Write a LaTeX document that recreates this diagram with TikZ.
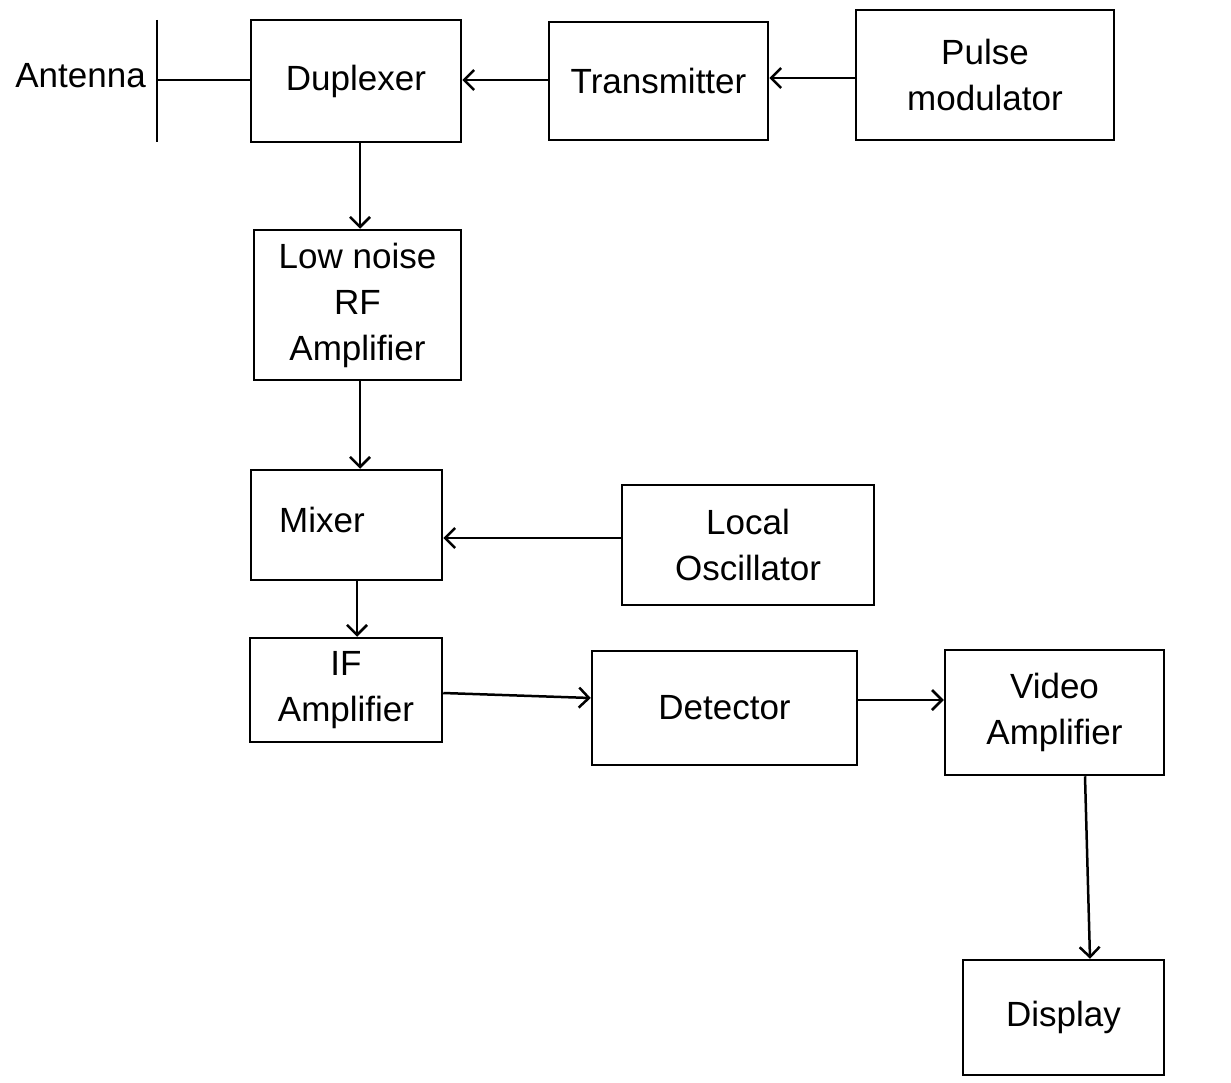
\documentclass[tikz,border=0pt]{standalone}
\usepackage{fontspec}
\setmainfont{Liberation Sans}
\usetikzlibrary{arrows.meta}
\begin{document}
\begin{tikzpicture}[x=1pt,y=-1pt,
  blk/.style={draw, line width=2.5pt, inner sep=0pt, align=center,
    font=\fontsize{35}{46}\selectfont},
  lbl/.style={inner sep=0pt, align=center, font=\fontsize{35}{46}\selectfont},
  conn/.style={line width=2.5pt, -{Straight Barb[length=10pt,width=20pt,line width=2.5pt]}},
  plain/.style={line width=2.5pt}]
\useasboundingbox[fill=white] (0,0) rectangle (1231,1083);
% blocks
\node[blk, minimum width=210pt, minimum height=122pt] (dup) at (356,81) {Duplexer};
\node[blk, minimum width=219pt, minimum height=118pt] (tx) at (658.5,81) {Transmitter};
\node[blk, minimum width=258pt, minimum height=130pt] (pm) at (985,75) {Pulse\\modulator};
\node[blk, minimum width=207pt, minimum height=150pt] (lna) at (357.5,305) {Low noise\\RF\\Amplifier};
\node[blk, minimum width=191pt, minimum height=110pt] (mix) at (346.5,525) {};
\node[lbl] (mixt) at (322,520) {Mixer};
\node[blk, minimum width=252pt, minimum height=120pt] (lo) at (748,545) {Local\\Oscillator};
\node[blk, minimum width=192pt, minimum height=104pt] (if) at (346,690) {IF\\Amplifier};
\node[blk, minimum width=265pt, minimum height=114pt] (det) at (724.5,708) {Detector};
\node[blk, minimum width=219pt, minimum height=125pt] (vid) at (1054.5,712.5) {Video\\Amplifier};
\node[blk, minimum width=201pt, minimum height=115pt] (disp) at (1063.5,1017.5) {Display};
% antenna
\coordinate (antT) at (157,20);
\coordinate (antB) at (157,142);
\coordinate (antM) at (157,80);
\draw[plain] (antT) -- (antB);
\node[lbl, anchor=east] (ant) at (146,76) {Antenna};
\draw[plain] (antM) -- (dup.west |- antM);
% connectors
\draw[conn] (tx.west |- 0,80) -- (dup.east |- 0,80);
\draw[conn] (pm.west |- 0,78) -- (tx.east |- 0,78);
\draw[conn] (dup.south -| 360,0) -- (lna.north -| 360,0);
\draw[conn] (lna.south -| 360,0) -- (mix.north -| 360,0);
\draw[conn] (lo.west |- 0,538) -- (mix.east |- 0,538);
\draw[conn] (mix.south -| 357,0) -- (if.north -| 357,0);
\draw[conn] (if.east |- 0,693) -- (det.west |- 0,698);
\draw[conn] (det.east |- 0,700) -- (vid.west |- 0,700);
\draw[conn] (vid.south -| 1085,0) -- (disp.north -| 1090,0);
\end{tikzpicture}
\end{document}
